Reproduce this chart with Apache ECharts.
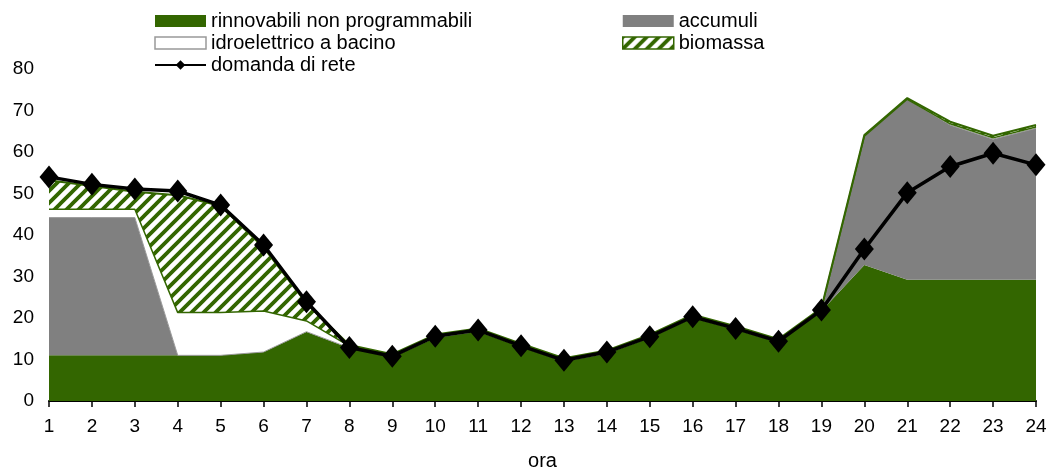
<!DOCTYPE html>
<html>
<head>
<meta charset="utf-8">
<script src="https://cdn.jsdelivr.net/npm/echarts@6/dist/echarts.min.js"></script>
<style>
html,body{margin:0;padding:0;background:#fff;}
#chart{width:1058px;height:471px;}
</style>
</head>
<body>
<div id="chart"></div>
<script>
const hours = ['1','2','3','4','5','6','7','8','9','10','11','12','13','14','15','16','17','18','19','20','21','22','23','24'];
const rinnovabili = [11, 11, 11, 11, 11, 11.8, 16.7, 12.8, 10.6, 15.3, 16.8, 13.1, 9.6, 11.5, 15.3, 20.1, 17.3, 14.2, 21.7, 32.8, 29.2, 29.2, 29.2, 29.2];
const accumuli = [33.2, 33.2, 33.2, 0, 0, 0, 0, 0, 0, 0, 0, 0, 0, 0, 0, 0, 0, 0, 0, 31, 43.5, 37.3, 33.9, 36.5];
const idroelettrico = [2, 2, 2, 10.3, 10.3, 9.9, 2.6, 0.4, 0.5, 0.5, 0.5, 0.5, 0.5, 0.5, 0.5, 0.5, 0.5, 0.5, 0.5, 0, 0, 0.3, 0.3, 0.3];
const biomassa = [7, 5.6, 4.2, 28.3, 25.7, 15.3, 4.2, 0.3, 0.2, 0.2, 0.2, 0.2, 0.2, 0.2, 0.2, 0.2, 0.2, 0.2, 0.2, 0.3, 0.3, 0.5, 0.5, 0.5];
const domanda = [54, 52.2, 51.1, 50.6, 47.2, 37.6, 23.9, 12.9, 10.8, 15.6, 17.1, 13.3, 9.8, 11.8, 15.5, 20.3, 17.5, 14.4, 21.9, 36.6, 50.2, 56.5, 59.7, 56.9];
const yTicks = [0, 10, 20, 30, 40, 50, 60, 70, 80];

const GREEN = '#336600';
const GREY = '#808080';

function makeHatch() {
  const s = 12;
  const c = document.createElement('canvas');
  c.width = s; c.height = s;
  const ctx = c.getContext('2d');
  ctx.fillStyle = '#ffffff';
  ctx.fillRect(0, 0, s, s);
  ctx.strokeStyle = GREEN;
  ctx.lineWidth = 3.8;
  ctx.beginPath();
  ctx.moveTo(-2, s + 2); ctx.lineTo(s + 2, -2);
  ctx.moveTo(-s / 2 - 2, s / 2 + 2); ctx.lineTo(s / 2 + 2, -s / 2 - 2);
  ctx.moveTo(s / 2 - 2, s * 1.5 + 2); ctx.lineTo(s * 1.5 + 2, s / 2 - 2);
  ctx.stroke();
  return c;
}
const hatch = { image: makeHatch(), repeat: 'repeat' };

const chart = echarts.init(document.getElementById('chart'));
const font = 'Liberation Sans, Arial, sans-serif';
const legendText = { fontFamily: font, fontSize: 20, color: '#000', lineHeight: 22 };

chart.setOption({
  animation: false,
  backgroundColor: '#fff',
  textStyle: { fontFamily: font, color: '#000' },
  legend: [
    {
      orient: 'vertical', left: 154, top: 10, padding: 0, itemWidth: 51, itemHeight: 12, itemGap: 0,
      textStyle: legendText, selectedMode: false,
      data: [
        { name: 'rinnovabili non programmabili', icon: 'rect', itemStyle: { color: GREEN, borderWidth: 0 } },
        { name: 'idroelettrico a bacino', icon: 'rect', itemStyle: { color: '#fff', borderColor: '#999', borderWidth: 1.5 } },
        { name: 'domanda di rete' }
      ]
    },
    {
      orient: 'vertical', left: 622, top: 10, padding: 0, itemWidth: 51, itemHeight: 12, itemGap: 0,
      textStyle: legendText, selectedMode: false,
      data: [
        { name: 'accumuli', icon: 'rect', itemStyle: { color: GREY, borderWidth: 0 } },
        { name: 'biomassa', icon: 'rect', itemStyle: { color: hatch, borderColor: GREEN, borderWidth: 1.5 } }
      ]
    }
  ],
  grid: { left: 49, right: 22, top: 69, bottom: 70, containLabel: false, outerBoundsMode: 'none' },
  xAxis: {
    type: 'category', data: hours, boundaryGap: false,
    name: 'ora', nameLocation: 'middle', nameGap: 50,
    nameTextStyle: { fontFamily: font, fontSize: 20, color: '#000' },
    axisLine: { show: true, lineStyle: { color: '#000', width: 2 } },
    axisTick: { show: true, length: 6, lineStyle: { color: '#000', width: 1.5 } },
    axisLabel: { fontFamily: font, fontSize: 19, color: '#000', margin: 16, interval: 0 },
    splitLine: { show: false }
  },
  yAxis: {
    type: 'value', min: 0, max: 80, interval: 10,
    axisLine: { show: false }, axisTick: { show: false },
    axisLabel: { fontFamily: font, fontSize: 19, color: '#000', margin: 15,
      formatter: v => yTicks.includes(v) ? String(v) : '' },
    splitLine: { show: false }
  },
  series: [
    {
      name: 'rinnovabili non programmabili', type: 'line', stack: 'gen', data: rinnovabili,
      showSymbol: false, symbol: 'none', lineStyle: { width: 0, color: GREEN },
      itemStyle: { color: GREEN }, areaStyle: { color: GREEN, opacity: 1 }, z: 2
    },
    {
      name: 'accumuli', type: 'line', stack: 'gen', data: accumuli,
      showSymbol: false, symbol: 'none', lineStyle: { width: 1, color: '#999' },
      itemStyle: { color: GREY }, areaStyle: { color: GREY, opacity: 1 }, z: 2
    },
    {
      name: 'idroelettrico a bacino', type: 'line', stack: 'gen', data: idroelettrico,
      showSymbol: false, symbol: 'none', lineStyle: { width: 1.5, color: GREEN },
      itemStyle: { color: '#fff' }, areaStyle: { color: '#fff', opacity: 1 }, z: 2
    },
    {
      name: 'biomassa', type: 'line', stack: 'gen', data: biomassa,
      showSymbol: false, symbol: 'none', lineStyle: { width: 2, color: GREEN },
      itemStyle: { color: GREEN }, areaStyle: { color: hatch, opacity: 1 }, z: 2
    },
    {
      name: 'domanda di rete', type: 'line', data: domanda,
      symbol: 'diamond', symbolSize: [19, 23], showSymbol: true,
      lineStyle: { width: 3.5, color: '#000' },
      itemStyle: { color: '#000' }, z: 5
    }
  ]
});
</script>
</body>
</html>
